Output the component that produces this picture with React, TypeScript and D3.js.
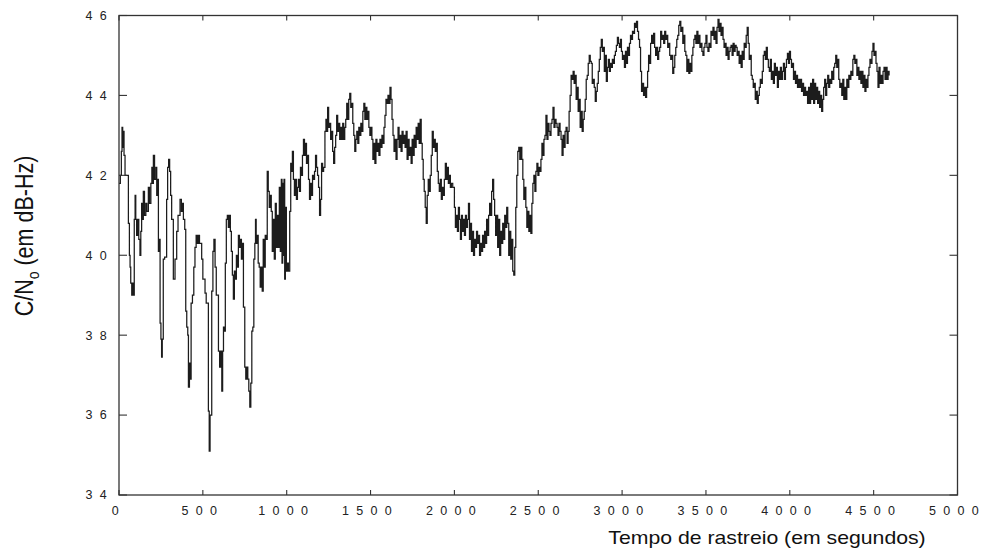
import * as d3 from "d3";

// C/N0 trace: [tempo (s), C/N0 (dB-Hz)], drawn as steps
const trace: [number, number][] = [
  [0, 41.8], [8, 42.0], [14, 42.6], [18, 43.2], [22, 42.7], [26, 43.1], [30, 42.5], [36, 42.0], [56, 40.8], [62, 40.0],
  [66, 39.7], [70, 39.3], [76, 39.0], [82, 39.3], [86, 39.0], [91, 40.9], [96, 41.5], [100, 40.9], [105, 40.5], [112, 40.9],
  [118, 40.4], [125, 40.0], [130, 40.6], [135, 41.3], [140, 40.9], [145, 41.6], [152, 41.0], [160, 41.3], [166, 41.1], [175, 41.7],
  [182, 41.3], [190, 41.8], [196, 42.2], [200, 41.8], [205, 42.5], [212, 41.9], [220, 42.2], [225, 41.5], [230, 41.9], [235, 40.1],
  [240, 40.4], [245, 38.3], [250, 37.9], [254, 37.45], [258, 37.9], [264, 39.9], [272, 39.95], [284, 41.4], [290, 42.2], [296, 42.4],
  [302, 42.1], [308, 41.5], [314, 40.9], [324, 39.4], [334, 39.9], [344, 40.6], [352, 41.0], [364, 41.4], [372, 41.1], [378, 41.3],
  [384, 40.9], [392, 40.65], [398, 38.6], [404, 38.2], [410, 38.0], [414, 36.7], [420, 37.3], [425, 36.9], [430, 38.8], [438, 39.0],
  [446, 39.7], [453, 40.2], [460, 40.5], [466, 40.3], [473, 40.5], [480, 40.3], [493, 39.9], [500, 39.4], [513, 39.05], [520, 38.8],
  [533, 36.1], [538, 35.1], [543, 36.0], [553, 39.1], [560, 40.1], [566, 40.4], [573, 39.7], [580, 39.0], [593, 37.6], [600, 37.2],
  [606, 37.6], [613, 36.6], [618, 37.6], [623, 38.2], [630, 38.1], [634, 39.8], [640, 40.9], [646, 41.0], [652, 40.7], [658, 41.0],
  [664, 40.6], [670, 40.1], [676, 39.5], [682, 38.9], [688, 39.6], [694, 39.4], [700, 40.0], [706, 39.7], [712, 40.5], [718, 40.2],
  [724, 40.4], [730, 39.9], [736, 40.3], [742, 38.7], [750, 37.2], [756, 36.9], [762, 37.2], [768, 36.9], [774, 36.6], [780, 36.2],
  [786, 36.8], [792, 38.1], [798, 38.2], [804, 39.9], [810, 40.3], [814, 40.9], [818, 40.3], [824, 40.5], [830, 39.8], [836, 39.7],
  [842, 39.2], [848, 39.7], [854, 39.1], [860, 40.4], [866, 39.7], [872, 40.5], [878, 40.4], [884, 42.1], [890, 41.6], [896, 41.2],
  [902, 41.5], [908, 41.1], [914, 40.1], [920, 40.9], [926, 39.9], [932, 41.3], [938, 40.2], [944, 41.0], [950, 40.2], [956, 41.7],
  [962, 40.1], [968, 41.9], [972, 39.8], [976, 41.8], [980, 40.0], [984, 41.9], [988, 39.4], [992, 41.2], [998, 39.6], [1004, 39.8],
  [1010, 39.6], [1018, 41.1], [1024, 42.3], [1030, 42.1], [1034, 42.6], [1040, 41.9], [1046, 41.5], [1052, 41.9], [1058, 41.4], [1064, 41.7],
  [1070, 41.9], [1076, 41.6], [1082, 42.2], [1088, 42.0], [1094, 42.5], [1100, 42.9], [1106, 42.5], [1112, 42.8], [1118, 42.3], [1124, 42.5],
  [1130, 41.9], [1136, 41.4], [1142, 41.8], [1148, 41.5], [1154, 42.0], [1160, 41.9], [1166, 42.1], [1172, 42.5], [1178, 42.2], [1184, 42.0],
  [1190, 41.7], [1196, 41.0], [1202, 41.4], [1208, 42.3], [1214, 42.1], [1220, 42.2], [1228, 43.1], [1234, 43.4], [1240, 43.1], [1244, 43.7],
  [1250, 43.2], [1256, 43.3], [1262, 42.9], [1268, 43.1], [1274, 42.6], [1280, 42.3], [1286, 42.7], [1292, 43.0], [1298, 43.5], [1304, 43.1],
  [1310, 43.3], [1316, 42.9], [1322, 43.2], [1328, 42.9], [1334, 43.3], [1340, 42.9], [1346, 43.2], [1352, 43.4], [1358, 43.8], [1364, 43.4],
  [1370, 43.9], [1376, 44.05], [1382, 43.7], [1388, 43.8], [1394, 43.3], [1400, 43.0], [1406, 42.6], [1412, 42.9], [1418, 43.1], [1424, 42.8],
  [1430, 43.2], [1436, 43.0], [1442, 43.3], [1448, 43.1], [1454, 43.6], [1460, 43.8], [1466, 43.4], [1472, 43.7], [1478, 43.4], [1484, 43.6],
  [1490, 43.2], [1496, 43.0], [1502, 43.2], [1508, 42.9], [1514, 42.4], [1520, 42.8], [1526, 42.3], [1532, 42.9], [1538, 42.6], [1544, 42.8],
  [1550, 42.5], [1556, 42.9], [1562, 42.7], [1568, 43.0], [1574, 42.8], [1580, 43.2], [1586, 43.5], [1592, 43.9], [1598, 43.8], [1604, 44.0],
  [1610, 43.8], [1616, 44.2], [1622, 43.9], [1628, 43.4], [1634, 43.0], [1640, 42.6], [1646, 42.9], [1652, 42.4], [1658, 42.9], [1664, 43.2],
  [1670, 42.7], [1676, 43.0], [1682, 42.6], [1688, 43.1], [1694, 42.8], [1700, 43.0], [1706, 42.7], [1712, 43.1], [1718, 42.4], [1724, 42.9],
  [1730, 42.5], [1736, 42.7], [1742, 42.3], [1748, 42.9], [1754, 42.5], [1760, 43.0], [1766, 42.7], [1772, 43.2], [1778, 42.9], [1784, 43.3],
  [1790, 42.8], [1796, 43.4], [1802, 42.8], [1808, 42.4], [1814, 41.9], [1820, 41.6], [1826, 41.2], [1832, 40.8], [1838, 41.5], [1844, 41.9],
  [1850, 41.6], [1856, 42.0], [1862, 42.5], [1868, 43.1], [1874, 42.7], [1880, 42.9], [1886, 42.6], [1892, 42.8], [1898, 42.1], [1904, 41.8],
  [1910, 41.6], [1916, 41.9], [1922, 41.4], [1928, 41.7], [1934, 41.5], [1940, 41.9], [1946, 42.3], [1952, 41.9], [1958, 42.2], [1964, 41.8],
  [1970, 42.0], [1976, 41.7], [1982, 41.8], [1990, 41.7], [2000, 41.2], [2006, 40.7], [2012, 41.0], [2018, 40.6], [2024, 41.2], [2030, 40.9],
  [2036, 40.4], [2042, 41.0], [2048, 40.6], [2054, 40.9], [2060, 40.5], [2066, 41.0], [2072, 40.7], [2078, 40.9], [2084, 41.3], [2090, 40.4],
  [2096, 40.8], [2102, 40.1], [2108, 40.6], [2114, 40.0], [2120, 40.4], [2126, 40.2], [2132, 40.6], [2138, 40.3], [2144, 40.5], [2150, 40.0],
  [2156, 40.3], [2162, 40.1], [2168, 40.5], [2174, 40.2], [2180, 40.6], [2186, 40.3], [2192, 40.9], [2198, 40.5], [2204, 41.0], [2210, 41.3],
  [2216, 41.0], [2222, 41.6], [2228, 41.9], [2234, 41.4], [2240, 41.0], [2246, 40.5], [2252, 41.0], [2258, 40.2], [2264, 40.9], [2270, 40.0],
  [2276, 40.6], [2282, 40.3], [2288, 40.8], [2294, 40.4], [2300, 41.0], [2306, 40.7], [2312, 41.2], [2318, 40.8], [2324, 40.0], [2330, 40.6],
  [2336, 39.9], [2342, 40.4], [2348, 39.6], [2354, 39.5], [2360, 40.2], [2366, 41.2], [2372, 42.0], [2378, 42.6], [2384, 42.7], [2390, 42.4],
  [2396, 42.7], [2402, 42.4], [2408, 41.9], [2414, 41.4], [2420, 41.7], [2426, 41.2], [2432, 40.7], [2438, 41.1], [2444, 40.6], [2450, 41.0],
  [2456, 40.55], [2462, 41.3], [2468, 41.8], [2474, 42.0], [2480, 41.6], [2486, 42.1], [2492, 42.3], [2498, 42.0], [2504, 42.2], [2510, 42.1],
  [2516, 42.4], [2522, 42.8], [2528, 42.5], [2534, 42.9], [2540, 43.0], [2546, 43.5], [2552, 42.9], [2558, 43.3], [2564, 43.1], [2570, 43.0],
  [2576, 43.3], [2582, 43.4], [2588, 43.7], [2594, 43.2], [2600, 43.4], [2606, 43.3], [2612, 43.2], [2618, 43.0], [2624, 43.3], [2630, 43.1],
  [2636, 42.9], [2642, 42.5], [2648, 43.0], [2654, 42.7], [2660, 43.1], [2666, 43.2], [2672, 42.8], [2678, 43.1], [2684, 43.6], [2690, 44.0],
  [2696, 44.5], [2702, 44.4], [2708, 44.6], [2714, 44.3], [2720, 44.5], [2726, 43.9], [2732, 44.2], [2738, 43.6], [2744, 43.9], [2750, 43.2],
  [2756, 43.6], [2762, 43.1], [2768, 43.4], [2774, 43.6], [2780, 43.9], [2786, 44.4], [2792, 44.5], [2798, 44.8], [2804, 45.0], [2810, 44.85],
  [2816, 44.8], [2822, 44.3], [2828, 44.4], [2834, 44.2], [2840, 43.85], [2846, 44.1], [2852, 44.3], [2858, 44.6], [2864, 44.9], [2870, 45.2],
  [2876, 45.4], [2882, 45.1], [2888, 45.2], [2894, 44.6], [2900, 45.0], [2906, 44.35], [2912, 44.7], [2918, 44.9], [2924, 44.6], [2930, 44.8],
  [2936, 44.7], [2942, 44.9], [2948, 44.8], [2954, 45.0], [2960, 45.1], [2966, 45.25], [2972, 45.45], [2978, 45.3], [2984, 45.2], [2990, 45.4],
  [2996, 45.1], [3002, 44.9], [3008, 45.0], [3014, 44.7], [3020, 45.1], [3026, 44.8], [3032, 45.2], [3038, 45.0], [3044, 45.3], [3050, 45.5],
  [3056, 45.4], [3062, 45.6], [3068, 45.55], [3074, 45.8], [3080, 45.7], [3086, 45.85], [3092, 45.6], [3098, 45.4], [3104, 45.2], [3110, 44.6],
  [3116, 44.1], [3122, 44.3], [3128, 44.0], [3134, 44.2], [3140, 43.95], [3146, 44.2], [3152, 44.6], [3158, 45.0], [3164, 44.8], [3170, 45.3],
  [3176, 45.5], [3182, 45.3], [3188, 45.55], [3194, 45.2], [3200, 45.0], [3206, 45.2], [3212, 44.9], [3218, 45.1], [3224, 45.2], [3230, 45.6],
  [3236, 45.4], [3242, 45.5], [3248, 45.3], [3254, 45.6], [3260, 45.4], [3266, 45.5], [3272, 45.2], [3278, 45.3], [3284, 45.0], [3290, 44.9],
  [3296, 45.0], [3302, 44.55], [3308, 44.7], [3314, 45.0], [3320, 45.2], [3326, 45.4], [3332, 45.5], [3338, 45.75], [3344, 45.85], [3350, 45.6],
  [3356, 45.7], [3362, 45.3], [3368, 45.5], [3374, 45.1], [3380, 45.0], [3386, 44.6], [3392, 44.9], [3398, 44.55], [3404, 44.8], [3410, 44.6],
  [3416, 45.0], [3422, 45.2], [3428, 45.4], [3434, 45.5], [3440, 45.3], [3446, 45.6], [3452, 45.3], [3458, 45.5], [3464, 45.2], [3470, 45.3],
  [3476, 45.1], [3482, 45.0], [3488, 45.2], [3494, 45.3], [3500, 45.5], [3506, 45.2], [3512, 45.1], [3518, 45.3], [3524, 45.2], [3530, 45.6],
  [3536, 45.5], [3542, 45.7], [3548, 45.4], [3554, 45.6], [3560, 45.3], [3566, 45.7], [3572, 45.9], [3578, 45.6], [3584, 45.8], [3590, 45.5],
  [3596, 45.7], [3602, 45.4], [3608, 45.2], [3614, 45.3], [3620, 45.0], [3626, 45.2], [3632, 44.9], [3638, 45.1], [3644, 45.2], [3650, 45.25],
  [3656, 45.0], [3662, 45.3], [3668, 45.1], [3674, 45.25], [3680, 45.2], [3686, 45.0], [3692, 45.1], [3698, 44.8], [3704, 45.0], [3710, 44.7],
  [3716, 45.1], [3722, 44.9], [3728, 45.3], [3734, 45.2], [3740, 45.5], [3746, 45.7], [3752, 45.3], [3758, 44.9], [3764, 45.0], [3770, 44.5],
  [3776, 44.4], [3782, 44.2], [3788, 44.3], [3794, 43.9], [3800, 44.1], [3806, 43.8], [3812, 44.0], [3818, 44.2], [3824, 44.4], [3830, 44.3],
  [3836, 44.6], [3842, 45.0], [3848, 45.1], [3854, 44.9], [3860, 45.2], [3866, 44.9], [3872, 44.7], [3878, 44.6], [3884, 44.9], [3890, 44.4],
  [3896, 44.6], [3902, 44.3], [3908, 44.8], [3914, 44.5], [3920, 44.7], [3926, 44.2], [3932, 44.6], [3938, 44.4], [3944, 44.7], [3950, 44.4],
  [3956, 44.6], [3962, 44.8], [3968, 44.4], [3974, 44.7], [3980, 44.9], [3986, 45.05], [3992, 44.8], [3998, 45.1], [4004, 44.9], [4010, 44.7],
  [4016, 44.8], [4022, 44.4], [4028, 44.6], [4034, 44.3], [4040, 44.5], [4046, 44.2], [4052, 44.4], [4058, 44.2], [4064, 44.4], [4070, 44.1],
  [4076, 44.3], [4082, 44.0], [4088, 44.2], [4094, 44.0], [4100, 44.1], [4106, 43.8], [4112, 44.2], [4118, 43.8], [4124, 44.3], [4130, 43.9],
  [4136, 44.4], [4142, 43.8], [4148, 44.3], [4154, 43.9], [4160, 44.2], [4166, 43.8], [4172, 44.1], [4178, 43.7], [4184, 44.0], [4190, 43.6],
  [4196, 43.9], [4202, 44.2], [4208, 44.4], [4214, 44.0], [4220, 44.3], [4226, 44.5], [4232, 44.2], [4238, 44.4], [4244, 44.3], [4250, 44.6],
  [4256, 44.4], [4262, 44.7], [4268, 44.8], [4274, 45.0], [4280, 44.7], [4286, 44.9], [4292, 44.4], [4298, 44.2], [4304, 44.3], [4310, 44.0],
  [4316, 44.4], [4322, 43.9], [4328, 44.2], [4334, 43.9], [4340, 44.4], [4346, 44.2], [4352, 44.5], [4358, 44.4], [4364, 44.6], [4370, 44.5],
  [4376, 44.9], [4382, 45.0], [4388, 44.8], [4394, 44.9], [4400, 44.5], [4406, 44.7], [4412, 44.4], [4418, 44.6], [4424, 44.3], [4430, 44.6],
  [4436, 44.2], [4442, 44.5], [4448, 44.1], [4454, 44.4], [4460, 44.2], [4466, 44.5], [4472, 44.7], [4478, 44.9], [4484, 44.8], [4490, 45.1],
  [4496, 45.3], [4502, 45.0], [4508, 45.1], [4514, 44.8], [4520, 44.6], [4526, 44.2], [4532, 44.7], [4538, 44.3], [4544, 44.5], [4550, 44.3],
  [4556, 44.6], [4562, 44.7], [4568, 44.4], [4574, 44.7], [4580, 44.4], [4586, 44.6], [4592, 44.5],
];

const xTicks = [0, 500, 1000, 1500, 2000, 2500, 3000, 3500, 4000, 4500, 5000];
const yTicks = [34, 36, 38, 40, 42, 44, 46];
const xTitle = "Tempo de rastreio (em segundos)";

const W = 986;
const H = 557;
const left = 119, right = 957.5, top = 15.5, bottom = 495;
const font = "Arial, 'Liberation Sans', sans-serif";
// the source picture is a bit wider than tall, the text looks stretched sideways
const stretch = 1.18;

export default function App() {
  const x = d3.scaleLinear().domain([0, 5000]).range([left, right]);
  const y = d3.scaleLinear().domain([34, 46]).range([bottom, top]);

  const line = d3
    .line<[number, number]>()
    .x((d) => x(d[0]))
    .y((d) => y(d[1]))
    .curve(d3.curveStepAfter);

  const axisColor = "#333";

  return (
    <svg
      width={W}
      height={H}
      style={{ position: "absolute", left: 0, top: 0, background: "#fff" }}
    >
      <path d={line(trace) ?? ""} fill="none" stroke="#1c1c1c" strokeWidth={1.25} />

      {/* frame */}
      <rect
        x={left}
        y={top}
        width={right - left}
        height={bottom - top}
        fill="none"
        stroke={axisColor}
        strokeWidth={1.3}
      />

      {/* x ticks (inward, top and bottom) */}
      {xTicks.map((t) => (
        <g key={"x" + t} stroke={axisColor} strokeWidth={1.1}>
          <line x1={x(t)} x2={x(t)} y1={bottom} y2={bottom - 5} />
          <line x1={x(t)} x2={x(t)} y1={top} y2={top + 5} />
        </g>
      ))}
      {xTicks.map((t) => (
        <text
          key={"xl" + t}
          x={x(t)}
          y={515}
          textAnchor="middle"
          fontFamily={font}
          fontSize={12.5}
          letterSpacing={7.3}
          fill="#222"
        >
          {t}
        </text>
      ))}

      {/* y ticks (inward, left and right) */}
      {yTicks.map((v) => (
        <g key={"y" + v} stroke={axisColor} strokeWidth={1.1}>
          <line x1={left} x2={left + 8} y1={y(v)} y2={y(v)} />
          <line x1={right} x2={right - 8} y1={y(v)} y2={y(v)} />
        </g>
      ))}
      {yTicks.map((v) => (
        <text
          key={"yl" + v}
          x={left - 5}
          y={y(v)}
          dy="0.35em"
          textAnchor="end"
          fontFamily={font}
          fontSize={12.5}
          letterSpacing={7.3}
          fill="#222"
        >
          {v}
        </text>
      ))}

      {/* axis titles */}
      <text
        transform={`translate(767,544) scale(${stretch},1)`}
        textAnchor="middle"
        fontFamily={font}
        fontSize={18}
        fill="#111"
      >
        {xTitle}
      </text>
      <text
        transform={`translate(33,236) scale(${stretch},1) rotate(-90)`}
        textAnchor="middle"
        fontFamily={font}
        fontSize={21.5}
        fill="#111"
      >
        C/N
        <tspan fontSize={14} dy={5}>o</tspan>
        <tspan dy={-5}> (em dB-Hz)</tspan>
      </text>
    </svg>
  );
}
